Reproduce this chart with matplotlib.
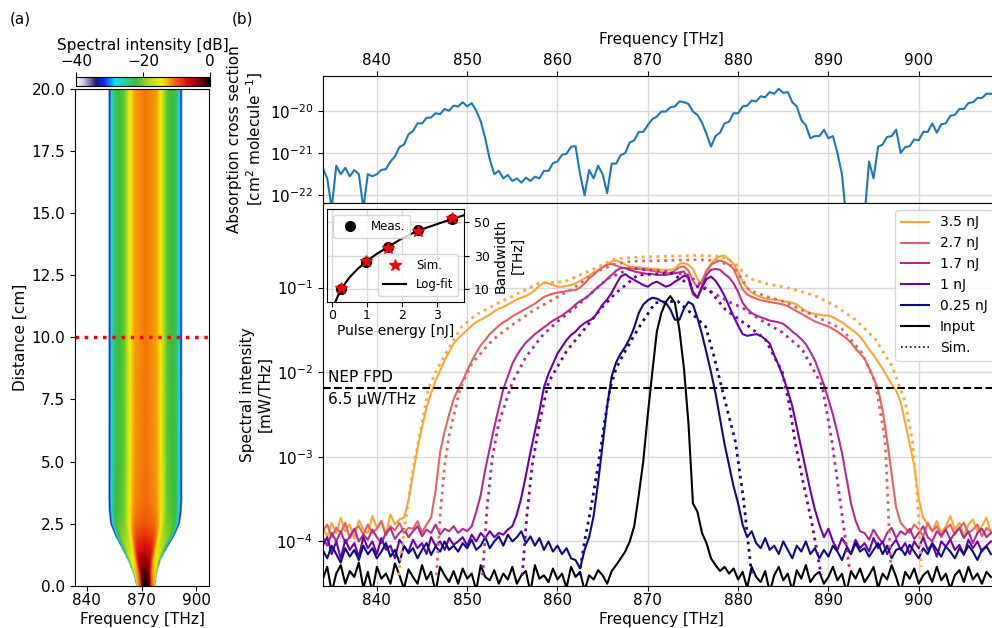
import numpy as np
import matplotlib
matplotlib.use("Agg")
import matplotlib.pyplot as plt
from matplotlib.colors import LinearSegmentedColormap
from matplotlib.lines import Line2D
from matplotlib.ticker import NullLocator

plt.rcParams['font.size'] = 11
plt.rcParams['xtick.major.pad'] = 2.0
plt.rcParams['axes.labelpad'] = 3.0

# ---- (a) propagation map ----
z_knots = [0.0, 0.5, 1.0, 1.5, 2.0, 2.5, 3.0, 3.5, 5.0, 10.0, 20.0]      # distance [cm]
lo_edge = [867.2, 865.5, 862.8, 859.5, 856.0, 853.3, 852.5, 852.3, 852.3, 852.3, 852.3]
hi_edge = [877.5, 878.2, 880.0, 883.5, 887.5, 890.5, 891.5, 891.8, 891.8, 891.8, 891.8]
peak_db = [0.0, -1.5, -3.5, -6.0, -8.0, -9.5, -10.2, -10.5, -10.8, -11.0, -11.0]
u_knots = [0.0, 0.3, 0.4, 0.48, 0.6, 0.85, 0.94, 0.98, 1.0, 1.03, 1.06]   # |f-centre|/half width
shape_db = [0.0, -1.2, -3.0, -6.0, -10.0, -12.0, -16.0, -20.0, -23.0, -27.0, -60.0]

# ---- (b) absorption cross section, log10 [cm^2/molecule], 834..908 THz step 0.5 ----
f_grid = np.arange(834.0, 908.01, 0.5)
abs_log = [-21.35, -21.6, -22.3, -21.3, -21.5, -21.35, -21.55, -21.4, -21.5, -22.3,
           -21.5, -21.55, -21.5, -21.4, -21.38, -21.2, -21.08, -20.86, -20.8, -20.56,
           -20.48, -20.3, -20.3, -20.17, -20.16, -20.06, -20.08, -19.96, -20.0, -19.88,
           -19.9, -19.8, -19.9, -19.82, -20.0, -20.25, -20.65, -21.15, -21.5, -21.42,
           -21.6, -21.52, -21.66, -21.6, -21.7, -21.58, -21.66, -21.56, -21.6, -21.42,
           -21.42, -21.24, -21.2, -21.04, -21.02, -20.85, -20.84, -21.5, -22.0, -21.4,
           -21.6, -21.3, -21.5, -21.95, -21.25, -21.25, -21.05, -21.0, -20.75, -20.7,
           -20.5, -20.5, -20.34, -20.2, -20.14, -20.02, -20.02, -19.92, -19.9, -19.78,
           -19.8, -19.84, -20.02, -20.1, -20.28, -20.55, -20.85, -20.6, -20.52, -20.3,
           -20.26, -20.06, -20.06, -19.9, -19.88, -19.76, -19.78, -19.66, -19.68, -19.56,
           -19.6, -19.48, -19.58, -19.56, -19.8, -19.9, -20.22, -20.35, -20.65, -20.6,
           -20.6, -20.45, -20.65, -20.6, -21.0, -21.5, -22.6, -23.0, -22.4, -23.0,
           -22.5, -21.2, -21.6, -20.85, -20.8, -20.62, -20.6, -20.45, -21.0, -20.86,
           -20.84, -20.68, -20.7, -20.5, -20.5, -20.3, -20.52, -20.32, -20.3, -20.12,
           -20.1, -19.96, -19.96, -19.82, -19.8, -19.7, -19.7, -19.6, -19.6]

# ---- measured spectra, log10 [mW/THz] on f_grid ----
meas_35 = [-3.82, -3.95, -3.78, -3.9, -3.72, -3.88, -3.8, -3.97, -3.75, -3.86,
           -3.9, -3.7, -3.84, -3.76, -3.92, -3.68, -3.8, -3.74, -3.72, -3.52,
           -3.2, -2.9, -2.65, -2.42, -2.25, -2.1, -1.98, -1.86, -1.76, -1.66,
           -1.6, -1.55, -1.5, -1.45, -1.41, -1.38, -1.35, -1.32, -1.28, -1.25,
           -1.23, -1.2, -1.17, -1.14, -1.12, -1.1, -1.07, -1.03, -0.98, -0.94,
           -0.95, -0.97, -0.99, -0.99, -0.98, -0.97, -0.95, -0.92, -0.89, -0.86,
           -0.82, -0.79, -0.76, -0.72, -0.69, -0.68, -0.7, -0.73, -0.75, -0.76,
           -0.76, -0.77, -0.77, -0.78, -0.78, -0.79, -0.79, -0.79, -0.78, -0.72,
           -0.71, -0.73, -0.78, -0.9, -0.96, -0.85, -0.72, -0.66, -0.63, -0.62,
           -0.67, -0.72, -0.82, -0.93, -1.0, -1.06, -1.09, -1.11, -1.13, -1.14,
           -1.14, -1.15, -1.16, -1.17, -1.18, -1.2, -1.24, -1.28, -1.3, -1.31,
           -1.32, -1.33, -1.33, -1.35, -1.38, -1.41, -1.45, -1.49, -1.53, -1.58,
           -1.65, -1.73, -1.8, -1.88, -1.96, -2.05, -2.14, -2.22, -2.35, -2.6,
           -2.85, -3.1, -3.5, -3.72, -3.8, -3.88, -3.76, -3.9, -3.82, -3.7,
           -3.86, -3.78, -3.93, -3.8, -3.74, -3.88, -3.82, -3.72, -3.9]
meas_27 = [-3.88, -3.8, -3.95, -3.84, -3.9, -3.78, -3.96, -3.86, -3.82, -3.92,
           -3.8, -3.9, -3.85, -3.76, -3.93, -3.82, -3.87, -3.78, -3.9, -3.84,
           -3.85, -3.76, -3.9, -3.8, -3.72, -3.4, -2.95, -2.7, -2.5, -2.32,
           -2.2, -2.1, -1.98, -1.87, -1.77, -1.68, -1.62, -1.55, -1.5, -1.45,
           -1.41, -1.38, -1.34, -1.31, -1.28, -1.25, -1.22, -1.19, -1.15, -1.11,
           -1.09, -1.07, -1.06, -1.05, -1.04, -1.03, -1.03, -1.0, -0.95, -0.89,
           -0.85, -0.8, -0.76, -0.73, -0.72, -0.74, -0.76, -0.77, -0.77, -0.78,
           -0.78, -0.79, -0.79, -0.8, -0.81, -0.82, -0.82, -0.83, -0.8, -0.76,
           -0.75, -0.8, -0.92, -1.0, -0.92, -0.8, -0.73, -0.7, -0.68, -0.7,
           -0.73, -0.78, -0.9, -1.02, -1.08, -1.11, -1.13, -1.15, -1.16, -1.17,
           -1.18, -1.19, -1.2, -1.22, -1.25, -1.28, -1.31, -1.34, -1.37, -1.4,
           -1.42, -1.44, -1.46, -1.49, -1.52, -1.56, -1.6, -1.65, -1.72, -1.78,
           -1.84, -1.95, -2.07, -2.2, -2.45, -2.8, -3.2, -3.6, -3.78, -3.84,
           -3.9, -3.8, -3.86, -3.94, -3.78, -3.88, -3.82, -3.95, -3.85, -3.8,
           -3.92, -3.84, -3.78, -3.9, -3.86, -3.8, -3.94, -3.84, -3.88]
meas_17 = [-3.95, -4.05, -3.9, -4.0, -3.88, -4.02, -3.94, -3.85, -4.0, -3.92,
           -3.98, -3.86, -3.95, -4.02, -3.9, -3.84, -3.97, -3.9, -3.85, -3.95,
           -3.88, -3.82, -3.94, -3.86, -3.9, -3.8, -3.92, -3.85, -3.88, -3.82,
           -3.9, -3.85, -3.88, -3.82, -3.65, -3.45, -3.15, -2.9, -2.65, -2.42,
           -2.2, -2.05, -1.9, -1.8, -1.72, -1.65, -1.6, -1.55, -1.51, -1.47,
           -1.43, -1.39, -1.36, -1.33, -1.29, -1.25, -1.2, -1.16, -1.13, -1.09,
           -1.04, -0.99, -0.95, -0.9, -0.85, -0.8, -0.77, -0.77, -0.79, -0.81,
           -0.82, -0.83, -0.84, -0.84, -0.85, -0.85, -0.85, -0.84, -0.83, -0.82,
           -0.81, -0.9, -1.08, -1.12, -0.98, -0.85, -0.79, -0.78, -0.79, -0.84,
           -0.88, -0.95, -1.05, -1.18, -1.25, -1.3, -1.33, -1.35, -1.37, -1.39,
           -1.4, -1.41, -1.43, -1.47, -1.52, -1.56, -1.61, -1.67, -1.76, -1.86,
           -2.0, -2.15, -2.32, -2.5, -2.72, -2.95, -3.25, -3.55, -3.75, -3.88,
           -3.9, -3.98, -3.86, -3.95, -4.02, -3.9, -3.84, -3.96, -3.88, -3.92,
           -3.85, -3.97, -3.9, -3.82, -3.95, -4.0, -3.88, -3.93, -3.86, -3.98,
           -3.9, -3.84, -3.96, -3.88, -4.02, -3.9, -3.85, -3.95, -3.9]
meas_10 = [-4.05, -3.95, -4.15, -4.0, -4.2, -3.98, -4.1, -4.02, -4.18, -3.95,
           -4.08, -4.0, -4.15, -3.96, -4.1, -4.05, -4.2, -3.98, -4.06, -4.12,
           -3.98, -4.08, -4.02, -4.15, -3.95, -4.05, -4.0, -4.1, -3.96, -4.04,
           -4.0, -3.95, -4.05, -3.92, -4.0, -3.9, -3.96, -3.88, -3.95, -3.9,
           -3.92, -3.86, -3.82, -3.68, -3.48, -3.22, -2.95, -2.7, -2.46, -2.18,
           -2.02, -1.9, -1.78, -1.7, -1.62, -1.56, -1.52, -1.46, -1.42, -1.39,
           -1.36, -1.28, -1.2, -1.14, -1.06, -0.96, -0.87, -0.84, -0.88, -0.91,
           -0.94, -0.97, -0.99, -0.95, -0.93, -0.96, -0.99, -0.97, -0.93, -0.9,
           -0.86, -0.87, -1.05, -1.12, -1.0, -0.9, -0.87, -0.92, -1.0, -1.1,
           -1.22, -1.34, -1.45, -1.55, -1.57, -1.56, -1.55, -1.57, -1.61, -1.66,
           -1.8, -1.92, -2.06, -2.22, -2.4, -2.65, -2.9, -3.15, -3.4, -3.62,
           -3.8, -3.95, -3.85, -4.0, -4.1, -3.96, -4.05, -4.15, -3.98, -4.08,
           -4.02, -4.12, -3.96, -4.08, -4.0, -4.15, -4.05, -3.98, -4.1, -4.02,
           -4.15, -4.0, -4.08, -3.95, -4.1, -4.03, -4.18, -4.0, -4.06, -3.98,
           -4.1, -4.04, -4.16, -3.98, -4.08, -4.0, -4.12, -4.05, -4.0]
meas_025 = [-4.1, -4.2, -4.05, -4.15, -4.25, -4.08, -4.18, -4.1, -4.22, -4.05,
            -4.15, -4.08, -4.2, -4.12, -4.02, -4.18, -4.1, -4.25, -4.05, -4.14,
            -4.08, -4.2, -4.1, -4.02, -4.16, -4.06, -4.12, -4.0, -4.1, -4.05,
            -4.12, -4.02, -4.08, -3.98, -4.1, -4.05, -3.95, -4.08, -4.0, -3.94,
            -4.05, -3.92, -4.0, -3.95, -3.88, -4.02, -3.94, -4.05, -3.96, -4.1,
            -4.0, -4.12, -4.05, -4.15, -4.08, -4.2, -4.22, -4.32, -4.1, -3.95,
            -3.7, -3.3, -2.85, -2.4, -2.05, -1.88, -1.78, -1.7, -1.6, -1.47,
            -1.3, -1.2, -1.15, -1.12, -1.13, -1.16, -1.18, -1.26, -1.38, -1.38,
            -1.25, -1.17, -1.2, -1.36, -1.55, -1.77, -2.0, -2.25, -2.55, -2.85,
            -3.1, -3.35, -3.55, -3.8, -3.95, -3.88, -4.02, -4.08, -3.96, -4.1,
            -4.05, -4.15, -4.0, -4.1, -4.2, -4.05, -4.12, -4.0, -4.15, -4.08,
            -4.2, -4.1, -4.18, -4.05, -4.12, -4.22, -4.08, -4.15, -4.02, -4.12,
            -4.08, -4.18, -4.1, -4.02, -4.15, -4.05, -4.2, -4.1, -4.08, -4.16,
            -4.04, -4.12, -4.2, -4.08, -4.15, -4.02, -4.1, -4.18, -4.06, -4.12,
            -4.2, -4.08, -4.15, -4.05, -4.12, -4.22, -4.1, -4.06, -4.15]
meas_in = [-4.45, -4.3, -4.6, -4.38, -4.28, -4.5, -4.35, -4.42, -4.25, -4.55,
           -4.36, -4.6, -4.3, -4.44, -4.38, -4.5, -4.26, -4.4, -4.56, -4.33,
           -4.42, -4.5, -4.28, -4.45, -4.36, -4.6, -4.3, -4.4, -4.48, -4.35,
           -4.5, -4.32, -4.44, -4.38, -4.58, -4.28, -4.42, -4.46, -4.34, -4.5,
           -4.38, -4.45, -4.3, -4.5, -4.4, -4.35, -4.6, -4.28, -4.44, -4.4,
           -4.48, -4.32, -4.45, -4.38, -4.55, -4.3, -4.42, -4.36, -4.58, -4.4,
           -4.45, -4.34, -4.4, -4.5, -4.35, -4.28, -4.2, -4.12, -4.0, -3.82,
           -3.45, -3.05, -2.5, -2.0, -1.52, -1.3, -1.17, -1.1, -1.18, -1.5,
           -1.95, -2.6, -3.55, -3.65, -3.9, -4.02, -4.2, -4.28, -4.35, -4.3,
           -4.38, -4.32, -4.45, -4.36, -4.55, -4.3, -4.42, -4.48, -4.35, -4.6,
           -4.4, -4.3, -4.46, -4.38, -4.58, -4.34, -4.44, -4.28, -4.48, -4.4,
           -4.36, -4.5, -4.42, -4.3, -4.46, -4.38, -4.6, -4.35, -4.44, -4.32,
           -4.48, -4.4, -4.3, -4.55, -4.38, -4.45, -4.28, -4.42, -4.6, -4.36,
           -4.44, -4.32, -4.5, -4.4, -4.35, -4.48, -4.3, -4.46, -4.38, -4.56,
           -4.4, -4.34, -4.48, -4.3, -4.45, -4.38, -4.5, -4.36, -4.42]

# ---- simulated spectra (dotted), log10 [mW/THz] ----
f_s35 = [842.4, 843.0, 843.5, 844.0, 845.0, 845.7, 846.5, 847.5, 849.4, 851.0, 853.5, 856.0,
         857.9, 860.8, 863.8, 866.4, 869.0, 872.0, 875.6, 878.0, 879.5, 881.2, 883.0, 884.9,
         886.8, 888.6, 890.8, 893.0, 895.2, 897.0, 898.5, 899.3, 899.8, 900.3]
sim_35 = [-4.4, -3.9, -3.5, -3.15, -2.6, -2.2, -2.0, -1.8, -1.46, -1.32, -1.18, -1.05,
          -0.95, -0.93, -0.79, -0.66, -0.64, -0.63, -0.62, -0.63, -0.7, -0.89, -0.95, -0.99,
          -1.04, -1.1, -1.22, -1.38, -1.61, -1.92, -2.35, -2.82, -3.4, -4.3]
f_s27 = [846.6, 847.0, 847.5, 848.0, 849.2, 850.5, 852.8, 855.0, 857.2, 859.5, 861.6, 864.5,
         866.5, 868.2, 872.0, 875.6, 877.5, 879.5, 881.2, 883.0, 884.9, 888.6, 891.5, 893.7,
         895.2, 896.3, 896.9]
sim_27 = [-4.4, -3.7, -3.1, -2.75, -2.2, -1.9, -1.62, -1.44, -1.28, -1.14, -1.02, -0.8,
          -0.72, -0.69, -0.68, -0.67, -0.68, -0.75, -1.03, -1.1, -1.16, -1.34, -1.49, -1.77,
          -2.12, -2.82, -4.3]
f_s17 = [851.7, 852.2, 852.8, 853.5, 855.0, 856.5, 858.3, 860.0, 861.9, 863.8, 865.6, 868.2,
         871.9, 874.4, 876.7, 879.2, 880.5, 882.3, 884.9, 887.1, 889.3, 890.4, 891.4, 892.3]
sim_17 = [-4.4, -3.6, -3.0, -2.6, -2.12, -1.82, -1.57, -1.4, -1.24, -1.06, -0.89, -0.77,
          -0.81, -0.85, -1.03, -1.18, -1.24, -1.37, -1.53, -1.73, -2.16, -2.82, -3.6, -4.3]
f_s10 = [856.1, 856.6, 857.2, 858.0, 859.0, 861.0, 863.0, 864.8, 866.4, 868.9, 872.6, 874.4,
         876.8, 878.6, 881.2, 883.0, 884.9, 885.7, 886.3, 887.2, 888.2, 889.2]
sim_10 = [-4.4, -3.7, -3.1, -2.6, -2.12, -1.75, -1.49, -1.25, -1.07, -0.85, -0.83, -0.95,
          -1.03, -1.26, -1.46, -1.61, -2.0, -2.4, -2.82, -3.3, -3.8, -4.4]
f_s025 = [862.4, 863.0, 863.8, 864.5, 865.2, 865.8, 866.5, 867.5, 868.9, 870.8, 873.3, 875.2,
          876.4, 877.3, 878.2, 879.7, 880.6, 881.5]
sim_025 = [-4.4, -4.0, -3.55, -3.1, -2.6, -2.2, -1.95, -1.75, -1.49, -1.18, -1.16, -1.34,
           -1.46, -1.8, -2.19, -2.82, -3.5, -4.4]

labels = ['3.5 nJ', '2.7 nJ', '1.7 nJ', '1 nJ', '0.25 nJ']
colors = plt.cm.plasma([0.8, 0.6, 0.4, 0.2, 0.0])

# ---- inset: bandwidth vs pulse energy ----
e_pts = [0.26, 0.97, 1.6, 2.46, 3.43]
bw_meas = [10.0, 26.3, 35.2, 45.1, 51.4]
bw_sim = [10.5, 26.5, 34.6, 44.5, 52.0]
e_fit = [0.1, 0.26, 0.5, 0.75, 0.97, 1.25, 1.6, 2.0, 2.46, 3.0, 3.43, 3.78]
bw_fit = [2.7, 10.0, 17.0, 22.3, 26.3, 30.5, 35.0, 40.0, 44.7, 48.5, 51.5, 53.8]

nep = 6.5e-3  # mW/THz


fig = plt.figure(figsize=(9.92, 6.28), dpi=100)

# ================= (a) =================
cmap = LinearSegmentedColormap.from_list('spec', [
    (0.0, '#ffffff'), (0.06, '#c6c0e0'), (0.15, '#1a1670'), (0.21, '#0a28ff'),
    (0.29, '#00e8ff'), (0.36, '#28d0a0'), (0.45, '#3cbc3c'), (0.56, '#b4e21e'),
    (0.64, '#ffec00'), (0.73, '#f2700c'), (0.83, '#e01010'), (0.92, '#8b0000'),
    (1.0, '#000000')])
cmap.set_under('white')

f_img = np.arange(833.5, 907.01, 0.2)
z_img = np.arange(0.0, 20.001, 0.05)
lo = np.interp(z_img, z_knots, lo_edge)
hi = np.interp(z_img, z_knots, hi_edge)
pk = np.interp(z_img, z_knots, peak_db)
cen = (lo + hi) / 2
half = (hi - lo) / 2
u = np.abs(f_img[None, :] - cen[:, None]) / half[:, None]
img = pk[:, None] + np.interp(u, u_knots, shape_db)

ax_a = fig.add_axes([0.0756, 0.0674, 0.1351, 0.7909])
im = ax_a.imshow(img, origin='lower', aspect='auto', cmap=cmap, vmin=-40, vmax=0,
                 extent=[f_img[0], f_img[-1], 0, 20], interpolation='bilinear')
ax_a.axhline(10, color='red', ls=':', lw=2.5)
ax_a.set_xlim(833.5, 907)
ax_a.set_ylim(0, 20)
ax_a.set_xticks([840, 870, 900])
ax_a.set_yticks(np.arange(0, 20.1, 2.5))
ax_a.set_xlabel('Frequency [THz]')
ax_a.set_ylabel('Distance [cm]')

cax = fig.add_axes([0.0766, 0.863, 0.135, 0.0143])
cb = fig.colorbar(im, cax=cax, orientation='horizontal', ticks=[-40, -20, 0])
cax.xaxis.set_ticks_position('top')
cax.xaxis.set_label_position('top')
cb.set_label('Spectral intensity [dB]')

fig.text(0.010, 0.962, '(a)', fontsize=11)
fig.text(0.234, 0.962, '(b)', fontsize=11)

# ================= (b) top: absorption =================
left_b = 0.3253
width_b = (1000 - 322.7) / 992
ax_t = fig.add_axes([left_b, 0.6768, width_b, 0.2022])
ax_t.plot(f_grid, 10.0 ** np.array(abs_log), color='#1f77b4', lw=1.5)
ax_t.set_yscale('log')
ax_t.set_ylim(10 ** -22.18, 10 ** -19.18)
ax_t.set_yticks([1e-22, 1e-21, 1e-20])
ax_t.yaxis.set_minor_locator(NullLocator())
ax_t.set_xlim(834, 909)
ax_t.set_xticks(np.arange(840, 901, 10))
ax_t.xaxis.tick_top()
ax_t.xaxis.set_label_position('top')
ax_t.set_xlabel('Frequency [THz]', labelpad=7)
ax_t.set_ylabel('Absorption cross section\n[cm$^2$ molecule$^{-1}$]')
ax_t.grid(True, color='#d9d9d9', lw=1)

# ================= (b) bottom: spectra =================
ax_b = fig.add_axes([left_b, 0.0674, width_b, 0.6094])
meas = [meas_35, meas_27, meas_17, meas_10, meas_025]
f_sims = [f_s35, f_s27, f_s17, f_s10, f_s025]
sims = [sim_35, sim_27, sim_17, sim_10, sim_025]
for m, c, lab in zip(meas, colors, labels):
    ax_b.plot(f_grid, 10.0 ** np.array(m), color=c, lw=1.5, label=lab)
ax_b.plot(f_grid, 10.0 ** np.array(meas_in), color='k', lw=1.5, label='Input')
for fs, s, c in zip(f_sims, sims, colors):
    ax_b.plot(fs, 10.0 ** np.array(s), color=c, lw=2, ls=':')
ax_b.axhline(nep, color='k', ls='--', lw=1.5)
ax_b.text(834.6, nep * 1.1, 'NEP FPD', fontsize=11, va='bottom')
ax_b.text(834.6, nep / 1.12, '6.5 µW/THz', fontsize=11, va='top')
ax_b.set_yscale('log')
ax_b.set_ylim(3e-5, 1)
ax_b.set_yticks([1e-4, 1e-3, 1e-2, 1e-1])
ax_b.yaxis.set_minor_locator(NullLocator())
ax_b.set_xlim(834, 909)
ax_b.set_xticks(np.arange(840, 901, 10))
ax_b.set_xlabel('Frequency [THz]')
ax_b.set_ylabel('Spectral intensity\n[mW/THz]')
ax_b.grid(True, color='#d9d9d9', lw=1)
h, l = ax_b.get_legend_handles_labels()
h.append(Line2D([], [], color='k', ls=':', lw=1.2))
l.append('Sim.')
ax_b.legend(h, l, loc='upper right', fontsize=10)

# ================= inset =================
ax_in = fig.add_axes([0.330, 0.5196, 0.1378, 0.1471])
ax_in.plot(e_fit, bw_fit, color='k', lw=1.5, zorder=2)
ax_in.plot(e_pts, bw_meas, 'o', color='k', ms=7, zorder=3)
ax_in.plot(e_pts, bw_sim, '*', color='red', ms=9, zorder=4)
ax_in.set_xlim(-0.13, 3.78)
ax_in.set_ylim(2.7, 57.3)
ax_in.set_xticks([0, 1, 2, 3])
ax_in.set_yticks([10, 30, 50])
ax_in.yaxis.tick_right()
ax_in.yaxis.set_label_position('right')
ax_in.tick_params(labelsize=9)
ax_in.set_xlabel('Pulse energy [nJ]', fontsize=10, labelpad=1)
ax_in.set_ylabel('Bandwidth\n[THz]', fontsize=10)
ax_in.grid(True, color='#d9d9d9', lw=1)
leg1 = ax_in.legend([Line2D([], [], marker='o', color='k', ls='none', ms=7)], ['Meas.'],
                    loc='upper left', fontsize=8.5)
ax_in.add_artist(leg1)
ax_in.legend([Line2D([], [], marker='*', color='red', ls='none', ms=9),
              Line2D([], [], color='k', lw=1.5)], ['Sim.', 'Log-fit'],
             loc='lower right', fontsize=8.5)

plt.savefig('out.png', dpi=100)
